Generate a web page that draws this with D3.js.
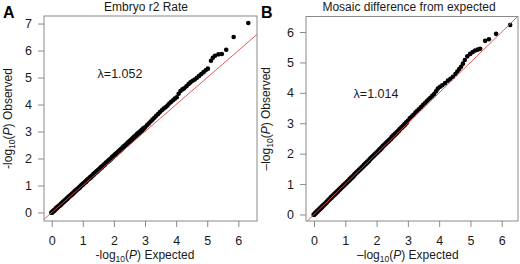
<!DOCTYPE html>
<html>
<head>
<meta charset="utf-8">
<script src="https://cdn.jsdelivr.net/npm/d3@7"></script>
<style>
  body { margin: 0; background: #fff; }
  svg { display: block; font-family: "Liberation Sans", Arial, sans-serif; }
</style>
</head>
<body>
<svg id="chart" width="520" height="264"></svg>
<script>
// Expected -log10(P) for the dense low part (shared by both panels)
const lowExpected = [
  0.00, 0.05, 0.10, 0.15, 0.20, 0.25, 0.30, 0.35, 0.40, 0.45,
  0.50, 0.55, 0.60, 0.65, 0.70, 0.75, 0.80, 0.85, 0.90, 0.95,
  1.00, 1.05, 1.10, 1.15, 1.20, 1.25, 1.30, 1.35, 1.40, 1.45,
  1.50, 1.55, 1.60, 1.65, 1.70, 1.75, 1.80, 1.85, 1.90, 1.95,
  2.00, 2.05, 2.10, 2.15, 2.20, 2.25, 2.30, 2.35, 2.40, 2.45,
  2.50, 2.55, 2.60, 2.65, 2.70, 2.75, 2.80, 2.85, 2.90, 2.95
];

// Panel A: Embryo r2 Rate
const lowObservedA = [
  0.00, 0.05, 0.10, 0.16, 0.21, 0.26, 0.31, 0.37, 0.42, 0.47,
  0.52, 0.58, 0.63, 0.68, 0.73, 0.79, 0.84, 0.89, 0.94, 1.00,
  1.05, 1.10, 1.15, 1.21, 1.26, 1.31, 1.36, 1.42, 1.47, 1.52,
  1.57, 1.63, 1.68, 1.73, 1.78, 1.84, 1.89, 1.94, 1.99, 2.05,
  2.10, 2.15, 2.20, 2.26, 2.31, 2.36, 2.42, 2.47, 2.52, 2.58,
  2.63, 2.68, 2.74, 2.79, 2.84, 2.90, 2.95, 3.00, 3.05, 3.11
];
const tailExpectedA = [
  3.00, 3.06, 3.12, 3.18, 3.24, 3.30, 3.36, 3.42, 3.48, 3.54,
  3.60, 3.66, 3.72, 3.78, 3.84, 3.90, 3.96, 4.02, 4.08, 4.14,
  4.20, 4.26, 4.33, 4.40, 4.46, 4.53, 4.60, 4.67, 4.74, 4.81,
  4.88, 4.95, 5.02, 5.12, 5.18, 5.25, 5.36, 5.47, 5.61, 5.85, 6.32
];
const tailObservedA = [
  3.16, 3.23, 3.30, 3.37, 3.44, 3.51, 3.58, 3.65, 3.72, 3.79,
  3.85, 3.90, 3.96, 4.04, 4.10, 4.16, 4.22, 4.27, 4.40, 4.50,
  4.56, 4.60, 4.68, 4.76, 4.82, 4.88, 4.93, 4.99, 5.06, 5.13,
  5.20, 5.27, 5.33, 5.62, 5.73, 5.81, 5.86, 5.87, 6.03, 6.50, 7.02
];

// Panel B: Mosaic difference from expected
const lowObservedB = [
  0.00, 0.05, 0.10, 0.15, 0.20, 0.25, 0.30, 0.35, 0.40, 0.46,
  0.51, 0.56, 0.61, 0.66, 0.71, 0.76, 0.81, 0.86, 0.91, 0.96,
  1.01, 1.06, 1.11, 1.16, 1.21, 1.26, 1.32, 1.37, 1.42, 1.47,
  1.52, 1.57, 1.62, 1.67, 1.72, 1.77, 1.83, 1.88, 1.93, 1.98,
  2.03, 2.08, 2.13, 2.18, 2.24, 2.29, 2.34, 2.39, 2.44, 2.49,
  2.55, 2.60, 2.65, 2.70, 2.75, 2.81, 2.86, 2.91, 2.96, 3.02
];
const tailExpectedB = [
  3.00, 3.06, 3.12, 3.18, 3.24, 3.30, 3.36, 3.42, 3.48, 3.54,
  3.60, 3.66, 3.72, 3.78, 3.84, 3.90, 3.96, 4.03, 4.10, 4.19,
  4.28, 4.36, 4.44, 4.52, 4.58, 4.64, 4.70, 4.76, 4.82, 4.90,
  4.99, 5.07, 5.15, 5.23, 5.31, 5.47, 5.59, 5.82, 6.27
];
const tailObservedB = [
  3.08, 3.16, 3.22, 3.28, 3.35, 3.41, 3.47, 3.53, 3.60, 3.66,
  3.72, 3.78, 3.84, 3.90, 3.96, 4.05, 4.14, 4.20, 4.25, 4.32,
  4.40, 4.46, 4.53, 4.62, 4.70, 4.78, 4.86, 4.96, 5.08, 5.20,
  5.28, 5.34, 5.39, 5.42, 5.45, 5.71, 5.76, 5.94, 6.23
];

const xTicks = [0, 1, 2, 3, 4, 5, 6];
const yTicksA = [0, 1, 2, 3, 4, 5, 6, 7];
const yTicksB = [0, 1, 2, 3, 4, 5, 6];

const panels = [
  {
    letter: "A", title: "Embryo r2 Rate", lambda: "λ=1.052", minus: "-",
    expected: lowExpected.concat(tailExpectedA),
    observed: lowObservedA.concat(tailObservedA),
    yTicks: yTicksA,
    box: { left: 44, right: 257, top: 16, bottom: 221 },
    xDomain: [-0.248, 6.60], yDomain: [-0.315, 7.28],
    letterX: 3, titleX: 146, lambdaPos: [120, 77.5], yTitleX: 12
  },
  {
    letter: "B", title: "Mosaic difference from expected", lambda: "λ=1.014", minus: "\u2013",
    expected: lowExpected.concat(tailExpectedB),
    observed: lowObservedB.concat(tailObservedB),
    yTicks: yTicksB,
    box: { left: 306, right: 518, top: 16.5, bottom: 221 },
    xDomain: [-0.256, 6.52], yDomain: [-0.214, 6.51],
    letterX: 261, titleX: 409, lambdaPos: [376, 97.5], yTitleX: 270
  }
];

const svg = d3.select("#chart");
const grey = "#8a8a8a";

function drawPanel(p) {
  const g = svg.append("g");
  const b = p.box;
  const x = d3.scaleLinear().domain(p.xDomain).range([b.left, b.right]);
  const y = d3.scaleLinear().domain(p.yDomain).range([b.bottom, b.top]);

  // points
  const pts = d3.zip(p.expected, p.observed);
  g.append("g")
    .selectAll("circle")
    .data(pts)
    .join("circle")
    .attr("cx", d => x(d[0]))
    .attr("cy", d => y(d[1]))
    .attr("r", d => d[0] < 3 ? 2.6 : 2.3)
    .attr("fill", "#000");

  // y = x reference line, clipped to the box
  const lo = Math.max(p.xDomain[0], p.yDomain[0]);
  const hi = Math.min(p.xDomain[1], p.yDomain[1]);
  g.append("line")
    .attr("x1", x(lo)).attr("y1", y(lo))
    .attr("x2", x(hi)).attr("y2", y(hi))
    .attr("stroke", "#e0494a")
    .attr("stroke-width", 0.9);

  // box
  g.append("rect")
    .attr("x", b.left).attr("y", b.top)
    .attr("width", b.right - b.left).attr("height", b.bottom - b.top)
    .attr("fill", "none")
    .attr("stroke", grey)
    .attr("stroke-width", 1);

  // axes
  const fmt = d3.format("d");
  const xAxis = g.append("g")
    .attr("transform", `translate(0,${b.bottom})`)
    .call(d3.axisBottom(x).tickValues(xTicks).tickFormat(fmt)
      .tickSize(6).tickPadding(9).tickSizeOuter(0));
  const yAxis = g.append("g")
    .attr("transform", `translate(${b.left},0)`)
    .call(d3.axisLeft(y).tickValues(p.yTicks).tickFormat(fmt)
      .tickSize(6).tickPadding(6).tickSizeOuter(0));
  [xAxis, yAxis].forEach(a => {
    a.select(".domain").remove();
    a.selectAll(".tick line").attr("stroke", grey);
    a.selectAll(".tick text")
      .attr("fill", "#1a1a1a")
      .style("font-size", "12.5px")
      .style("font-family", "Liberation Sans, Arial, sans-serif");
  });

  // axis titles
  const xt = g.append("text")
    .attr("x", (x(0) + x(6)) / 2)
    .attr("y", 259)
    .attr("text-anchor", "middle")
    .attr("fill", "#1a1a1a")
    .style("font-size", "12px");
  xt.append("tspan").text(p.minus + "log");
  xt.append("tspan").attr("font-size", "8.5px").attr("dy", 2.5).text("10");
  xt.append("tspan").attr("dy", -2.5).text("(");
  xt.append("tspan").attr("font-style", "italic").text("P");
  xt.append("tspan").text(") Expected");

  const cy = (b.top + b.bottom) / 2;
  const yt = g.append("text")
    .attr("transform", `translate(${p.yTitleX},${cy}) rotate(-90)`)
    .attr("text-anchor", "middle")
    .attr("fill", "#1a1a1a")
    .style("font-size", "12px");
  yt.append("tspan").text(p.minus + "log");
  yt.append("tspan").attr("font-size", "8.5px").attr("dy", 2.5).text("10");
  yt.append("tspan").attr("dy", -2.5).text("(");
  yt.append("tspan").attr("font-style", "italic").text("P");
  yt.append("tspan").text(") Observed");

  // title, panel letter, lambda
  g.append("text")
    .attr("x", p.titleX).attr("y", 10.5)
    .attr("text-anchor", "middle")
    .attr("fill", "#1a1a1a")
    .style("font-size", "12px")
    .text(p.title);
  g.append("text")
    .attr("x", p.letterX).attr("y", 17.5)
    .attr("font-weight", "bold")
    .attr("fill", "#000")
    .style("font-size", "16px")
    .text(p.letter);
  g.append("text")
    .attr("x", p.lambdaPos[0]).attr("y", p.lambdaPos[1])
    .attr("text-anchor", "middle")
    .attr("fill", "#1a1a1a")
    .style("font-size", "12.5px")
    .text(p.lambda);
}

panels.forEach(drawPanel);
</script>
</body>
</html>
